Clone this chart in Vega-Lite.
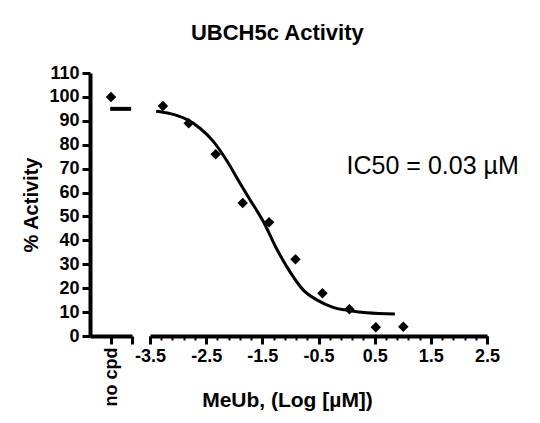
{
  "$schema": "https://vega.github.io/schema/vega-lite/v6.json",
  "padding": {"left": 21, "top": 22, "right": 5, "bottom": 5},
  "bounds": "flush",
  "title": {"text": "UBCH5c Activity", "fontSize": 22, "font": "Liberation Sans", "fontWeight": "bold", "color": "black", "anchor": "middle", "dx": 7, "offset": 19},
  "datasets": {
    "points": [
      {"logc": -3.27, "activity": 96.2},
      {"logc": -2.81, "activity": 89.0},
      {"logc": -2.33, "activity": 76.0},
      {"logc": -1.85, "activity": 55.6},
      {"logc": -1.38, "activity": 47.6},
      {"logc": -0.91, "activity": 32.1},
      {"logc": -0.43, "activity": 17.9},
      {"logc": 0.05, "activity": 11.2},
      {"logc": 0.52, "activity": 3.7},
      {"logc": 1.01, "activity": 3.9}
    ],
    "curve": [
      {"logc": -3.39, "activity": 94.0},
      {"logc": -3.14, "activity": 93.0},
      {"logc": -2.85, "activity": 90.6},
      {"logc": -2.61, "activity": 86.9},
      {"logc": -2.37, "activity": 81.3},
      {"logc": -2.14, "activity": 73.6},
      {"logc": -1.9, "activity": 64.0},
      {"logc": -1.72, "activity": 57.0},
      {"logc": -1.48, "activity": 47.8},
      {"logc": -1.25, "activity": 36.7},
      {"logc": -1.01, "activity": 26.9},
      {"logc": -0.77, "activity": 19.2},
      {"logc": -0.53, "activity": 15.1},
      {"logc": -0.24, "activity": 12.0},
      {"logc": 0.06, "activity": 10.6},
      {"logc": 0.36, "activity": 9.7},
      {"logc": 0.86, "activity": 9.2}
    ],
    "nocpd": [{"pos": 0.5, "activity": 100}],
    "nocpdMean": [{"from": 0.48, "to": 0.98, "activity": 95}],
    "label": [{"logc": 0.0, "activity": 71, "text": "IC50 = 0.03 µM"}]
  },
  "spacing": 18,
  "hconcat": [
    {
      "width": 42,
      "height": 263,
      "encoding": {
        "y": {"field": "activity", "type": "quantitative", "scale": {"domain": [0, 110], "nice": false},
          "axis": {"values": [0, 10, 20, 30, 40, 50, 60, 70, 80, 90, 100, 110], "tickCount": 12, "labelOverlap": false, "title": "% Activity", "titleFontSize": 20, "titlePadding": 7}}
      },
      "layer": [
        {
          "data": {"name": "nocpd"},
          "mark": {"type": "point", "shape": "diamond", "filled": true, "color": "black", "opacity": 1, "size": 110},
          "encoding": {
            "x": {"field": "pos", "type": "quantitative", "scale": {"domain": [0, 1], "nice": false},
              "axis": {"values": [0.5, 1], "labelExpr": "datum.value == 0.5 ? 'no cpd' : ''", "labelAngle": -90, "labelAlign": "right", "labelBaseline": "middle", "labelOverlap": false, "title": null}}
          }
        },
        {
          "data": {"name": "nocpdMean"},
          "mark": {"type": "rule", "strokeWidth": 4, "color": "black"},
          "encoding": {
            "x": {"field": "from", "type": "quantitative"},
            "x2": {"field": "to"}
          }
        }
      ]
    },
    {
      "width": 337,
      "height": 263,
      "encoding": {
        "y": {"field": "activity", "type": "quantitative", "scale": {"domain": [0, 110], "nice": false}, "axis": null}
      },
      "layer": [
        {
          "data": {"name": "curve"},
          "mark": {"type": "line", "interpolate": "monotone", "color": "black", "strokeWidth": 3},
          "encoding": {
            "x": {"field": "logc", "type": "quantitative", "scale": {"domain": [-3.5, 2.5], "nice": false},
              "axis": {"orient": "bottom", "values": [-3.5, -3.3, -3.1, -2.9, -2.7, -2.5, -2.3, -2.1, -1.9, -1.7, -1.5, -1.3, -1.1, -0.9, -0.7, -0.5, -0.3, -0.1, 0.1, 0.3, 0.5, 0.7, 0.9, 1.1, 1.3, 1.5, 1.7, 1.9, 2.1, 2.3, 2.5], "labels": false, "domain": false, "tickSize": 4, "tickWidth": 2, "title": null}}
          }
        },
        {
          "data": {"name": "points"},
          "mark": {"type": "point", "shape": "diamond", "filled": true, "color": "black", "opacity": 1, "size": 110},
          "encoding": {
            "x": {"field": "logc", "type": "quantitative",
              "axis": {"orient": "bottom", "values": [-3.5, -2.5, -1.5, -0.5, 0.5, 1.5, 2.5], "labelOverlap": false, "labelExpr": "(datum.value < 0 ? '-' : '') + format(abs(datum.value), '.1f')", "title": "MeUb, (Log [µM])", "titleFontSize": 21, "titleX": 137, "titlePadding": 24}}
          }
        },
        {
          "data": {"name": "label"},
          "mark": {"type": "text", "align": "left", "baseline": "middle", "fontSize": 25, "font": "Liberation Sans", "color": "black"},
          "encoding": {
            "x": {"field": "logc", "type": "quantitative", "axis": null},
            "text": {"field": "text"}
          }
        }
      ],
      "resolve": {"axis": {"x": "independent"}}
    }
  ],
  "config": {
    "view": {"stroke": null},
    "axis": {
      "grid": false,
      "domainColor": "black",
      "domainWidth": 4,
      "tickColor": "black",
      "tickWidth": 3,
      "tickSize": 8,
      "labelColor": "black",
      "labelFont": "Liberation Sans",
      "labelFontSize": 18,
      "labelFontWeight": "bold",
      "labelPadding": 3,
      "labelOverlap": false,
      "labelFlush": false,
      "titleColor": "black",
      "titleFont": "Liberation Sans",
      "titleFontWeight": "bold"
    }
  }
}
